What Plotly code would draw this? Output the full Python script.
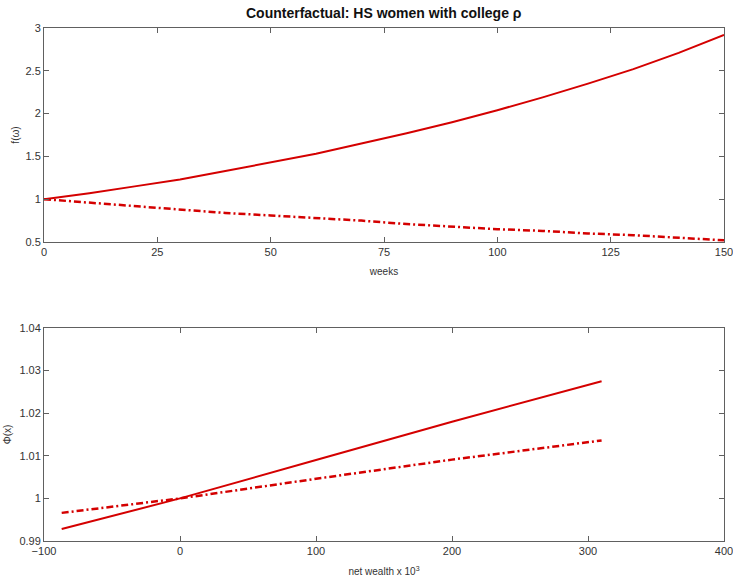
import plotly.graph_objects as go

# Top panel data
weeks = [0, 10, 20, 30, 40, 50, 60, 70, 80, 90, 100, 110, 120, 130, 140, 150]
f_solid = [1.0, 1.07, 1.15, 1.23, 1.33, 1.43, 1.53, 1.65, 1.77, 1.90, 2.04, 2.19, 2.35, 2.52, 2.71, 2.92]
f_dash = [1.0, 0.96, 0.92, 0.88, 0.84, 0.81, 0.78, 0.75, 0.71, 0.68, 0.65, 0.63, 0.60, 0.58, 0.55, 0.52]

# Bottom panel data
wealth = [-87, 0, 100, 200, 310]
phi_solid = [0.9928, 1.0, 1.009, 1.018, 1.0275]
phi_dash = [0.9966, 1.0, 1.0046, 1.0091, 1.0136]

top_xticks = [0, 25, 50, 75, 100, 125, 150]
top_yticks = [0.5, 1, 1.5, 2, 2.5, 3]
bot_xticks = [-100, 0, 100, 200, 300, 400]
bot_yticks = [0.99, 1, 1.01, 1.02, 1.03, 1.04]

RED = "#d40000"
FONT = "Liberation Sans"
DASHDOT = "7px,3px,2px,3px"

fig = go.Figure()
fig.add_trace(go.Scatter(x=weeks, y=f_solid, mode="lines", line=dict(color=RED, width=2), xaxis="x", yaxis="y"))
fig.add_trace(go.Scatter(x=weeks, y=f_dash, mode="lines", line=dict(color=RED, width=2.5, dash=DASHDOT), xaxis="x", yaxis="y"))
fig.add_trace(go.Scatter(x=wealth, y=phi_solid, mode="lines", line=dict(color=RED, width=2), xaxis="x2", yaxis="y2"))
fig.add_trace(go.Scatter(x=wealth, y=phi_dash, mode="lines", line=dict(color=RED, width=2.5, dash=DASHDOT), xaxis="x2", yaxis="y2"))

ax = dict(showline=True, linecolor="#606060", linewidth=1, mirror="ticks", ticks="inside",
          ticklen=5, tickcolor="#606060", showgrid=False, zeroline=False, automargin=False,
          ticklabeloverflow="allow",
          tickfont=dict(family=FONT, size=11, color="#333333"))

fig.update_layout(
    width=733, height=581, margin=dict(l=44, r=9, t=28, b=40),
    plot_bgcolor="white", paper_bgcolor="white", showlegend=False,
    font=dict(family=FONT, color="#333333"),
    xaxis=dict(ax, domain=[0, 1], range=[0, 150.001], tickvals=top_xticks, anchor="y",
               title=dict(text="weeks", font=dict(size=10), standoff=10)),
    yaxis=dict(ax, domain=[0.5828, 1], range=[0.5, 3], tickvals=top_yticks,
               ticktext=["0.5", "1", "1.5", "2", "2.5", "3"], anchor="x",
               title=dict(text="f(ω)", font=dict(size=10), standoff=3)),
    xaxis2=dict(ax, domain=[0, 1], range=[-100, 400.001], tickvals=bot_xticks, anchor="y2",
                title=dict(text="net wealth x 10<sup>3</sup>", font=dict(size=10), standoff=11)),
    yaxis2=dict(ax, domain=[0, 0.4152], range=[0.99, 1.04], tickvals=bot_yticks,
                ticktext=["0.99", "1", "1.01", "1.02", "1.03", "1.04"], anchor="x2",
                title=dict(text="Φ(x)", font=dict(size=10), standoff=5)),
    annotations=[dict(text="<b>Counterfactual: HS women with college ρ</b>", x=0.5, y=1,
                      xref="paper", yref="paper", yanchor="middle", yshift=15, showarrow=False,
                      font=dict(family=FONT, size=14, color="#111111"))],
)

fig.write_html("out.html")
